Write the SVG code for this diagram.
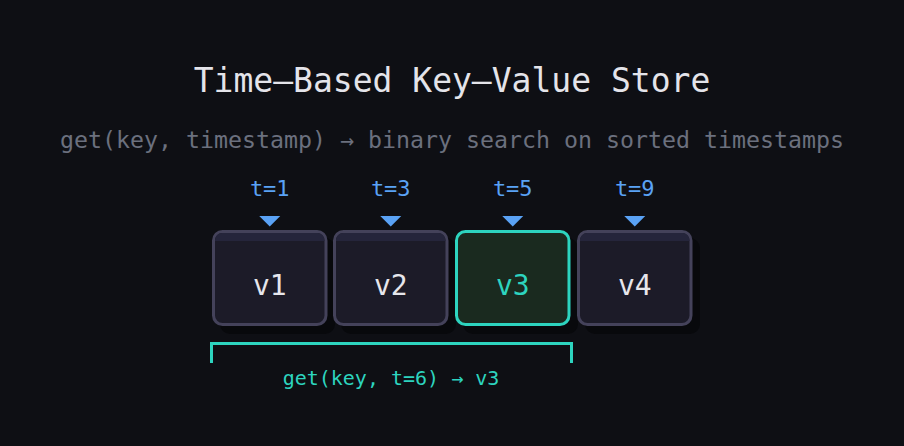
<svg xmlns="http://www.w3.org/2000/svg" width="904" height="446" viewBox="0 0 904 446">
<defs>
<style>
text{font-family:"DejaVu Sans Mono","Liberation Mono",monospace;text-anchor:middle}
.title{font-size:33px;fill:#e4e4ea}
.sub{font-size:23.25px;fill:#6b707e}
.t{font-size:22px;fill:#5aa2f5}
.v{font-size:28px;fill:#e6e6ec}
.vh{font-size:28px;fill:#2dd4bf}
.box{fill:#1c1b28;stroke:#44425a;stroke-width:3}
.hbox{fill:#1a2a1f;stroke:#2dd4bf;stroke-width:3}
.shadow{fill:#08090c}
.stripe{fill:#25253b}
.tri{fill:#5aa2f5}
.lbl{font-size:20px;fill:#2dd4bf}
</style>
</defs>
<rect width="904" height="446" fill="#0e0f14"/>
<text class="title" x="452" y="92">Time–Based Key–Value Store</text>
<text class="sub" x="452" y="148">get(key, timestamp) → binary search on sorted timestamps</text>
<g id="node-v1">
<rect class="shadow" x="220" y="238" width="115" height="96" rx="10"/>
<rect class="box" x="213.5" y="231.5" width="112.5" height="93" rx="9"/>
<path class="stripe" d="M215 241V240a7 7 0 0 1 7-7h95.5a7 7 0 0 1 7 7v1z"/>
<text class="t" x="269.75" y="196">t=1</text>
<path class="tri" d="M259.25 216h21l-10.5 10.5z"/>
<text class="v" x="269.75" y="295">v1</text>
</g>
<g id="node-v2">
<rect class="shadow" x="341" y="238" width="115" height="96" rx="10"/>
<rect class="box" x="334.5" y="231.5" width="112.5" height="93" rx="9"/>
<path class="stripe" d="M336 241V240a7 7 0 0 1 7-7h95.5a7 7 0 0 1 7 7v1z"/>
<text class="t" x="390.75" y="196">t=3</text>
<path class="tri" d="M380.25 216h21l-10.5 10.5z"/>
<text class="v" x="390.75" y="295">v2</text>
</g>
<g id="node-v3">
<rect class="shadow" x="463" y="238" width="115" height="96" rx="10"/>
<rect class="hbox" x="456.5" y="231.5" width="112.5" height="93" rx="9"/>
<text class="t" x="512.75" y="196">t=5</text>
<path class="tri" d="M502.25 216h21l-10.5 10.5z"/>
<text class="vh" x="512.75" y="295">v3</text>
</g>
<g id="node-v4">
<rect class="shadow" x="585" y="238" width="115" height="96" rx="10"/>
<rect class="box" x="578.5" y="231.5" width="112.5" height="93" rx="9"/>
<path class="stripe" d="M580 241V240a7 7 0 0 1 7-7h95.5a7 7 0 0 1 7 7v1z"/>
<text class="t" x="634.75" y="196">t=9</text>
<path class="tri" d="M624.25 216h21l-10.5 10.5z"/>
<text class="v" x="634.75" y="295">v4</text>
</g>
<g id="connectors">
<path d="M211.5 363V343.5H571.5V363" fill="none" stroke="#2dd4bf" stroke-width="3"/>
<text class="lbl" x="391" y="385">get(key, t=6) → v3</text>
</g>
</svg>
